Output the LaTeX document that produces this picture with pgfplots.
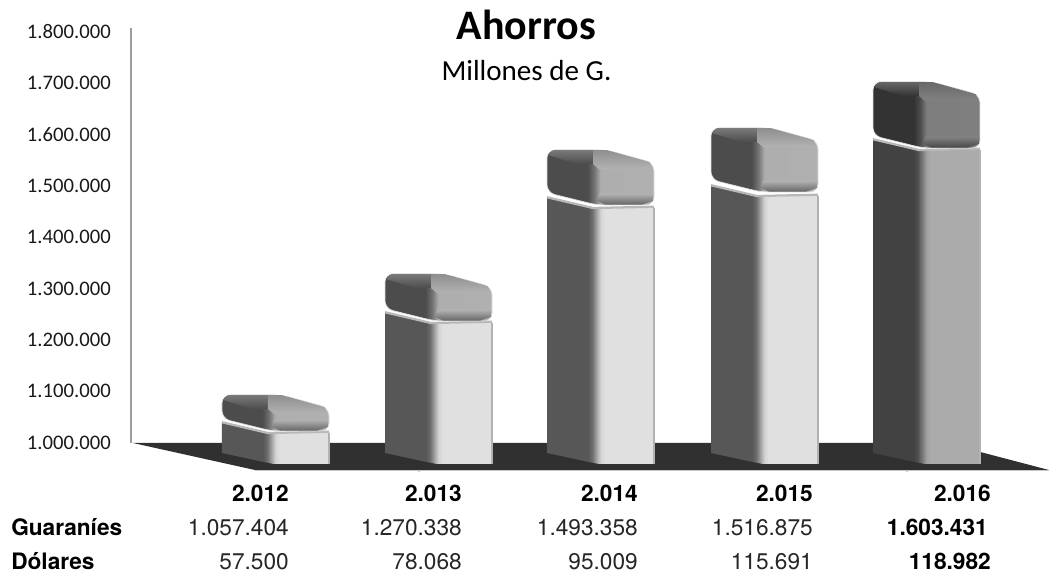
\documentclass[border=0pt]{standalone}
\usepackage{fontspec}
\setmainfont{Carlito}
\newfontfamily\hv{TeX Gyre Heros}
\usepackage{pgfplots}
\pgfplotsset{compat=1.18}
\definecolor{floorc}{HTML}{303030}
\colorlet{faceA}{black!30}\colorlet{bevA}{black!60}\colorlet{leftA}{black!70}
\colorlet{faceB}{black!49}\colorlet{bevB}{black!72}\colorlet{leftB}{black!80}
% the path's box maps to 25bp..75bp of the shading
\pgfdeclarehorizontalshading{barA}{100bp}{color(0bp)=(black!66); color(44bp)=(black!66); color(46bp)=(black!58); color(50bp)=(black!17); color(52bp)=(black!12); color(100bp)=(black!12)}
\pgfdeclarehorizontalshading{capA}{100bp}{color(0bp)=(black!70); color(44bp)=(black!70); color(47bp)=(black!55); color(50bp)=(black!32); color(100bp)=(black!30)}
\pgfdeclarehorizontalshading{barB}{100bp}{color(0bp)=(black!74); color(44bp)=(black!74); color(46bp)=(black!68); color(50bp)=(black!37); color(52bp)=(black!33); color(100bp)=(black!33)}
\pgfdeclarehorizontalshading{capB}{100bp}{color(0bp)=(black!80); color(44bp)=(black!80); color(47bp)=(black!70); color(50bp)=(black!51); color(100bp)=(black!49)}
\def\polyB#1#2{\addplot[#2] coordinates {#1} -- cycle;}
\def\lineB#1#2{\addplot[#2] coordinates {#1};}
\def\P#1#2{(\the\numexpr\X+#1\relax,\the\numexpr#2\relax)}
% #1 left x, #2 cap top, #3 cap bottom, #4 box top (y values), #5 bar shading, #6 cap shading, #7 cap face, #8 bevel, #9 cap left face
\newcommand{\tresD}[9]{%
  \def\X{#1}%
  \edef\pts{\P{0}{#4} \P{46}{#4-21000} \P{107}{#4-18500} \P{107}{955230} \P{52}{955230} \P{42}{959000} \P{0}{976642}}%
  \expandafter\polyB\expandafter{\pts}{draw=none,shading=#5,shading angle=0}%
  \edef\pts{\P{0}{#4+1500} \P{46}{#4-19500} \P{107}{#4-17000}}%
  \expandafter\lineB\expandafter{\pts}{draw=black!28,line width=1.7pt}%
  \edef\pts{\P{107}{#4-18500} \P{107}{955230}}%
  \expandafter\lineB\expandafter{\pts}{draw=black!30,line width=0.8pt}%
  \edef\pts{\P{0}{#2} \P{60}{#2} \P{107}{#2-25000} \P{107}{#3} \P{50}{#3} \P{0}{#3+24000}}%
  \expandafter\polyB\expandafter{\pts}{draw=black!12,line width=0.5pt,rounded corners=6pt,shading=#6,shading angle=0}%
  \edef\pts{\P{6}{#2-400} \P{46}{#2-400} \P{46}{#2-27251} \P{30}{#2-27251} \P{1}{#2-9733}}%
  \expandafter\polyB\expandafter{\pts}{draw=none,top color=#9!75!white,middle color=#9,bottom color=#9}%
  \edef\pts{\P{46}{#2-400} \P{60}{#2-400} \P{103}{#2-24000} \P{105}{#2-36984} \P{52}{#2-36984} \P{46}{#2-27251}}%
  \expandafter\polyB\expandafter{\pts}{draw=none,top color=#7!80!black,middle color=#7!75!white,bottom color=#7}%
  \edef\pts{\P{52}{#3+22000} \P{106}{#3+22000} \P{106}{#3+8000} \P{95}{#3+800} \P{58}{#3+800} \P{50}{#3+8000}}%
  \expandafter\polyB\expandafter{\pts}{draw=none,top color=#7,bottom color=#8}%
}
\begin{document}
\begin{tikzpicture}[x=1pt,y=1pt]
\useasboundingbox (-98.25pt,-97.5pt) rectangle ++(786.75pt,429.75pt);
\begin{axis}[
  anchor=south west, at={(0pt,0pt)},
  scale only axis, width=674.25pt, height=311.25pt,
  xmin=131, xmax=1030, ymin=996107, ymax=1803905,
  clip=false,
  axis x line=none, axis y line=left,
  axis line style={draw=black!38,line width=1.4pt,-},
  ytick={1000000,1100000,1200000,1300000,1400000,1500000,1600000,1700000,1800000},
  scaled y ticks=false,
  ytick style={draw=none},
  major tick length=0pt,
  yticklabel style={font=\fontsize{15.5}{18}\selectfont,anchor=east,inner sep=0pt,xshift=-15pt,yshift=-1.2pt,text=black!90},
  /pgf/number format/.cd, assume math mode=true, 1000 sep={.}, fixed, precision=0,
]
% floor
\addplot[draw=none,fill=floorc] coordinates {(133,996107) (946,996107) (1049,943500) (255,943500)} -- cycle;
\addplot[draw=black!22,line width=1pt] coordinates {(255,942000) (1049,942000)};
\addplot[draw=black!22,line width=1pt] coordinates {(419,944500) (419,940500)};
\addplot[draw=black!22,line width=1pt] coordinates {(907,944500) (907,940500)};
% bars
\tresD{222}{1089539}{1019465}{1035037}{barA}{capA}{faceA}{bevA}{leftA}
\tresD{385}{1325066}{1233580}{1249152}{barA}{capA}{faceA}{bevA}{leftA}
\tresD{547}{1566432}{1459374}{1473000}{barA}{capA}{faceA}{bevA}{leftA}
\tresD{711}{1609255}{1484679}{1496358}{barA}{capA}{faceA}{bevA}{leftA}
\tresD{873}{1698794}{1570325}{1585897}{barB}{capB}{faceB}{bevB}{leftB}
% titles
\node[anchor=base,inner sep=0pt,font=\bfseries\fontsize{31.5}{36}\selectfont] at (axis cs:526.5,1782000) {Ahorros};
\node[anchor=base,inner sep=0pt,font=\fontsize{21.8}{24}\selectfont] at (axis cs:526.5,1702000) {Millones de G.};
% table
\begin{scope}[every node/.style={inner sep=0pt,font=\hv\fontsize{17}{20}\selectfont,anchor=base east,text=black!85}]
\node[font=\hv\bfseries\fontsize{17}{20}\selectfont,text=black] at (axis cs:289,881264) {2.012};
\node[font=\hv\bfseries\fontsize{17}{20}\selectfont,text=black] at (axis cs:462,881264) {2.013};
\node[font=\hv\bfseries\fontsize{17}{20}\selectfont,text=black] at (axis cs:638,881264) {2.014};
\node[font=\hv\bfseries\fontsize{17}{20}\selectfont,text=black] at (axis cs:813,881264) {2.015};
\node[font=\hv\bfseries\fontsize{17}{20}\selectfont,text=black] at (axis cs:991,881264) {2.016};
\node at (axis cs:289,815082) {1.057.404};
\node at (axis cs:462,815082) {1.270.338};
\node at (axis cs:638,815082) {1.493.358};
\node at (axis cs:813,815082) {1.516.875};
\node[font=\hv\bfseries\fontsize{17}{20}\selectfont,text=black] at (axis cs:988,815082) {1.603.431};
\node at (axis cs:289,748902) {57.500};
\node at (axis cs:462,748902) {78.068};
\node at (axis cs:638,748902) {95.009};
\node at (axis cs:813,748902) {115.691};
\node[font=\hv\bfseries\fontsize{17}{20}\selectfont,text=black] at (axis cs:991,748902) {118.982};
\node[font=\hv\bfseries\fontsize{17}{20}\selectfont,text=black,anchor=base west] at (axis cs:11,815082) {Guaraníes};
\node[font=\hv\bfseries\fontsize{17}{20}\selectfont,text=black,anchor=base west] at (axis cs:11,748902) {Dólares};
\end{scope}
\end{axis}
\end{tikzpicture}
\end{document}
